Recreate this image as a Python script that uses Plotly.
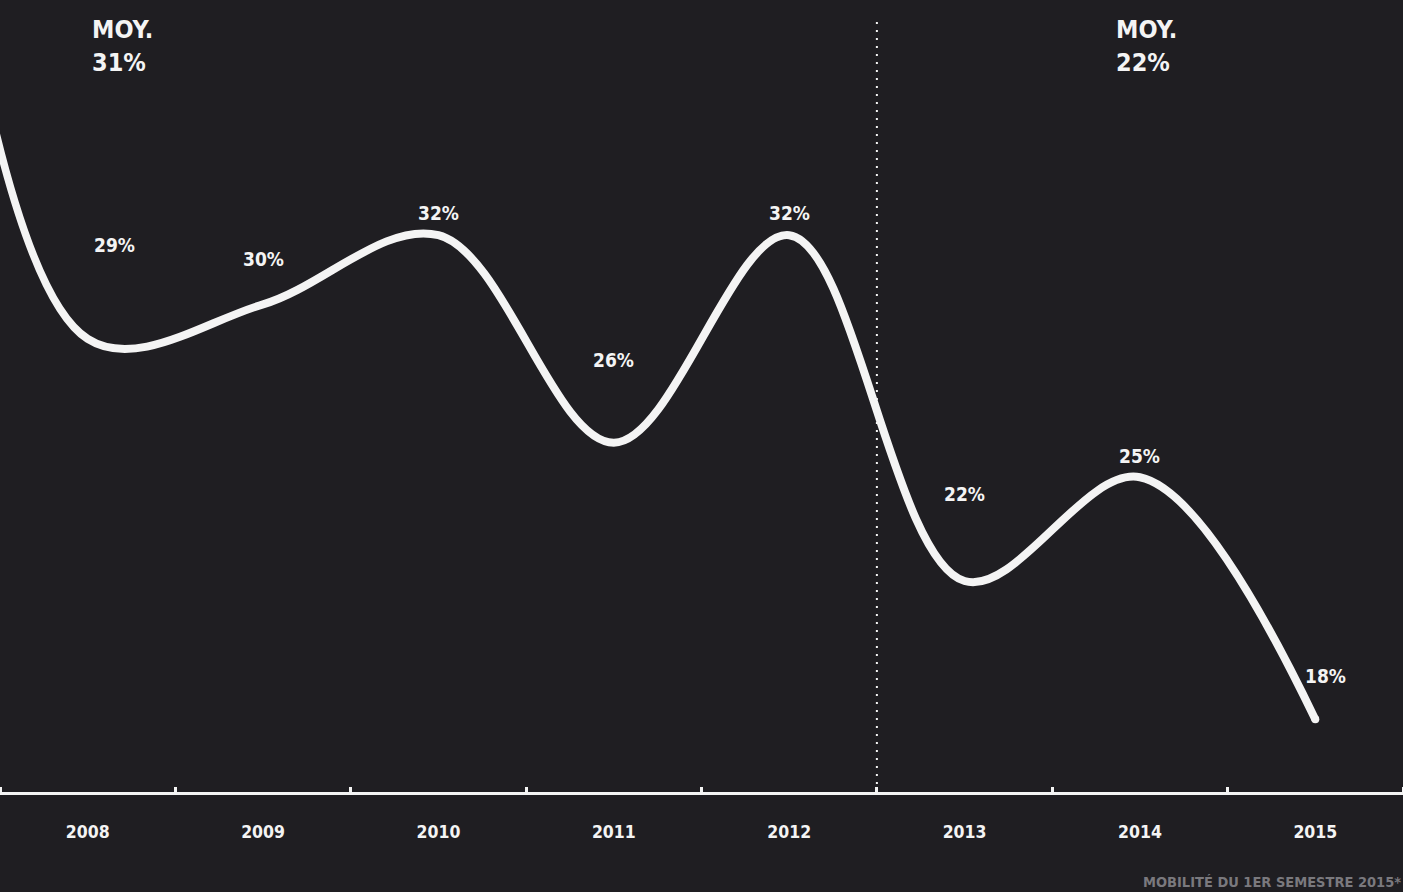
import plotly.graph_objects as go

# Annual mobility rate (%), with a lead-in value for 2007 so the curve enters from the left edge
years = [2007, 2008, 2009, 2010, 2011, 2012, 2013, 2014, 2015]
rates = [50, 29, 30, 32, 26, 32, 22, 25, 18]
labelled_years = [2008, 2009, 2010, 2011, 2012, 2013, 2014, 2015]
labelled_rates = [29, 30, 32, 26, 32, 22, 25, 18]
label_texts = ["29%", "30%", "32%", "26%", "32%", "22%", "25%", "18%"]
year_ticks = ["2008", "2009", "2010", "2011", "2012", "2013", "2014", "2015"]
period_split = 2012.5
averages = [("MOY.", "31%"), ("MOY.", "22%")]
footnote = "MOBILITÉ DU 1ER SEMESTRE 2015*"

BG = "#1f1e22"
FG = "#f4f4f4"
FONT = "DejaVu Sans Condensed, DejaVu Sans, sans-serif"

# per-label pixel offsets (x, y) for the value labels
label_offsets = [(27, 94), (0, 45), (0, 22), (0, 83), (0, 22), (0, 87), (0, 21), (10, 43)]

fig = go.Figure()
fig.add_trace(go.Scatter(
    x=years, y=rates, mode="lines",
    line=dict(color=FG, width=8, shape="spline", smoothing=1.0),
    hoverinfo="skip", showlegend=False,
))
# rounded end of the curve
fig.add_trace(go.Scatter(
    x=years[-1:], y=rates[-1:], mode="markers",
    marker=dict(color=FG, size=8, line=dict(width=0)),
    hoverinfo="skip", showlegend=False,
))

for yr, val, txt, (dx, dy) in zip(labelled_years, labelled_rates, label_texts, label_offsets):
    fig.add_annotation(
        x=yr, y=val, text=txt, showarrow=False,
        xshift=dx, yshift=dy,
        font=dict(family=FONT, size=19, color=FG, weight="bold"),
    )

# dotted separator between the two periods
fig.add_shape(
    type="line", x0=period_split, x1=period_split, y0=0, y1=0.975,
    xref="x", yref="y domain",
    line=dict(color=FG, width=2, dash="2px,6px"),
)

# period averages
for xpos, (head, val) in zip([0.064, 0.794], averages):
    fig.add_annotation(
        x=xpos, y=1.0, xref="paper", yref="paper",
        xanchor="left", yanchor="top", align="left",
        text="%s<br>%s" % (head, val), showarrow=False,
        yshift=-13,
        font=dict(family=FONT, size=25, color=FG, weight="bold"),
    )

fig.add_annotation(
    x=1.0, y=0, xref="paper", yref="paper", xanchor="right", yanchor="bottom",
    yshift=-100, text=footnote, showarrow=False,
    font=dict(family=FONT, size=14.5, color="#7a797e", weight="bold"),
)

fig.update_xaxes(
    range=[2007.5, 2015.5],
    tickvals=labelled_years, ticktext=year_ticks,
    ticks="", ticklabelstandoff=22,
    tickfont=dict(family=FONT, size=17.5, color=FG, weight="bold"),
    showline=True, linecolor=FG, linewidth=3,
    showgrid=False, zeroline=False, fixedrange=True,
    minor=dict(tickvals=[2007.5 + i for i in range(9)], ticks="inside",
               ticklen=5, tickwidth=3, tickcolor=FG, showgrid=False),
)
fig.update_yaxes(range=[15.9, 38.8], visible=False, showgrid=False, zeroline=False)

fig.update_layout(
    width=1403, height=892,
    margin=dict(l=0, r=0, t=0, b=100),
    paper_bgcolor=BG, plot_bgcolor=BG,
    showlegend=False,
)

fig.write_html("out.html", config={"displayModeBar": False})
